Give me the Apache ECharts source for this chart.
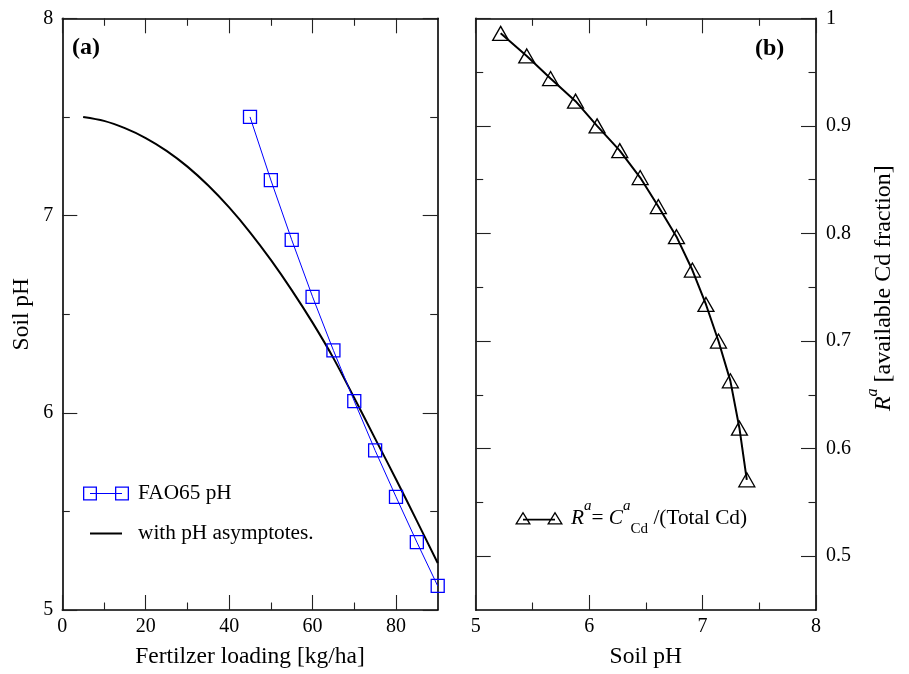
<!DOCTYPE html>
<html><head><meta charset="utf-8">
<script src="https://cdn.jsdelivr.net/npm/echarts@6/dist/echarts.min.js"></script>
<style>html,body{margin:0;padding:0;background:#fff}#c{width:909px;height:674px}</style>
</head><body><div id="c"></div>
<script>
// ---------- Panel (a) data ----------
const fertX = [45, 50, 55, 60, 65, 70, 75, 80, 85, 90];
const faoPH = [7.50, 7.18, 6.877, 6.588, 6.316, 6.059, 5.809, 5.574, 5.344, 5.122];
const asymX = [5, 10, 15, 20, 25, 30, 35, 40, 45, 50, 55, 60, 65, 70, 75, 80, 85, 90];
const asymPH = [7.50, 7.48, 7.443, 7.393, 7.328, 7.248, 7.152, 7.041, 6.915, 6.775, 6.622, 6.457, 6.277, 6.075, 5.869, 5.663, 5.452, 5.238];
// ---------- Panel (b) data ----------
const soilPH = [5.22, 5.45, 5.66, 5.88, 6.07, 6.27, 6.45, 6.61, 6.77, 6.91, 7.03, 7.14, 7.245, 7.325, 7.39];
const availR = [0.986, 0.965, 0.944, 0.923, 0.900, 0.877, 0.852, 0.825, 0.797, 0.766, 0.734, 0.700, 0.663, 0.619, 0.571];
// ---------- Ticks ----------
const xTicksA = [0, 20, 40, 60, 80];
const xMinorA = [10, 30, 50, 70];
const yTicksA = [5, 6, 7, 8];
const yMinorA = [5.5, 6.5, 7.5];
const xTicksB = [5, 6, 7, 8];
const xMinorB = [5.5, 6.5, 7.5];
const yTicksB = [0.5, 0.6, 0.7, 0.8, 0.9, 1];
const yMinorB = [0.55, 0.65, 0.75, 0.85, 0.95];

const FONT = '"Liberation Serif", "Times New Roman", serif';
const MAJ = 15, MIN = 7.5;

function ax(grid, pos, range, ticks, len, line, extra) {
  return Object.assign({
    type: 'value', gridIndex: grid, position: pos, min: range[0], max: range[1],
    axisLine: { show: line, onZero: false, lineStyle: { color: '#000', width: 1.6 } },
    axisTick: { show: true, inside: true, length: len, customValues: ticks, lineStyle: { color: '#222', width: 1.1 } },
    axisLabel: { show: false },
    splitLine: { show: false }, minorTick: { show: false }, minorSplitLine: { show: false }
  }, extra || {});
}
function lab(ticks, margin) {
  return { show: true, customValues: ticks, margin: margin, fontFamily: FONT, fontSize: 20, color: '#000', showMinLabel: true, showMaxLabel: true };
}
const nameStyle = { fontFamily: FONT, fontSize: 23.5, color: '#000' };

const xr = { A: [0, 90], B: [5, 8] };
const yr = { A: [5, 8], B: [0.45, 1] };

const xAxes = [
  ax(0, 'bottom', xr.A, xTicksA, MAJ, true, { axisLabel: lab(xTicksA, 7), name: 'Fertilzer loading [kg/ha]', nameLocation: 'middle', nameGap: 35, nameTextStyle: nameStyle }),
  ax(0, 'bottom', xr.A, xMinorA, MIN, false),
  ax(0, 'top', xr.A, xTicksA, MAJ, true),
  ax(0, 'top', xr.A, xMinorA, MIN, false),
  ax(1, 'bottom', xr.B, xTicksB, MAJ, true, { axisLabel: lab(xTicksB, 7), name: 'Soil pH', nameLocation: 'middle', nameGap: 35, nameTextStyle: nameStyle }),
  ax(1, 'bottom', xr.B, xMinorB, MIN, false),
  ax(1, 'top', xr.B, xTicksB, MAJ, true),
  ax(1, 'top', xr.B, xMinorB, MIN, false)
];
const yAxes = [
  ax(0, 'left', yr.A, yTicksA, MAJ, true, { axisLabel: lab(yTicksA, 9), name: 'Soil pH', nameLocation: 'middle', nameGap: 28.5, nameTextStyle: nameStyle }),
  ax(0, 'left', yr.A, yMinorA, MIN, false),
  ax(0, 'right', yr.A, yTicksA, MAJ, true),
  ax(0, 'right', yr.A, yMinorA, MIN, false),
  ax(1, 'right', yr.B, yTicksB, MAJ, true, {
    axisLabel: lab(yTicksB, 10),
    name: '{i|R}{sup|a}{n| [available Cd fraction]}', nameLocation: 'middle', nameGap: 48.5,
    nameTextStyle: { fontFamily: FONT, fontSize: 24, color: '#000', padding: [0, 0, 0, 52], rich: {
      i: { fontFamily: FONT, fontSize: 24, fontStyle: 'italic', color: '#000', lineHeight: 38 },
      n: { fontFamily: FONT, fontSize: 24, color: '#000', lineHeight: 38 },
      sup: { fontFamily: FONT, fontSize: 16, fontStyle: 'italic', color: '#000', lineHeight: 16, verticalAlign: 'top' }
    } }
  }),
  ax(1, 'right', yr.B, yMinorB, MIN, false),
  ax(1, 'left', yr.B, yTicksB, MAJ, true),
  ax(1, 'left', yr.B, yMinorB, MIN, false)
];

const sqIcon = 'path://M0,0H14V14H0Z M1.3,1.3V12.7H12.7V1.3Z M32,0H46V14H32Z M33.3,1.3V12.7H44.7V1.3Z M7,6.4H39V7.6H7Z';
const lineIcon = 'path://M0,0L0.01,0L0,0.01Z M46,14L45.99,14L46,13.99Z M7,6.1H39V7.9H7Z';
const triIcon = 'path://M8,0L16,13L0,13Z M8,2.48L2.33,11.7L13.67,11.7Z M40,0L48,13L32,13Z M40,2.48L34.33,11.7L45.67,11.7Z M8,7.3H40V8.9H8Z';

const LF = 21.3;
const legText = { fontFamily: FONT, fontSize: LF, color: '#000', padding: [0, 0, 0, 4] };
const richLeg = {
  n: { fontFamily: FONT, fontSize: LF, color: '#000', lineHeight: 38 },
  i: { fontFamily: FONT, fontSize: LF, fontStyle: 'italic', color: '#000', lineHeight: 38 },
  sup: { fontFamily: FONT, fontSize: 15, fontStyle: 'italic', color: '#000', lineHeight: 15, verticalAlign: 'top' },
  sub: { fontFamily: FONT, fontSize: 15, color: '#000', lineHeight: 21, verticalAlign: 'bottom' }
};

const option = {
  animation: false,
  backgroundColor: '#fff',
  grid: [
    { left: 62.3, right: 471.3, top: 18.3, bottom: 60.7 },
    { left: 475.7, right: 93, top: 18.3, bottom: 60.7 }
  ],
  title: [
    { text: '(a)', left: 72, top: 36, padding: 0, textStyle: { fontFamily: FONT, fontSize: 24, fontWeight: 'bold', color: '#000' } },
    { text: '(b)', left: 755, top: 37, padding: 0, textStyle: { fontFamily: FONT, fontSize: 24, fontWeight: 'bold', color: '#000' } }
  ],
  legend: [
    { data: [{ name: 'FAO65 pH', icon: sqIcon, itemStyle: { color: '#0000ff', borderWidth: 0 } }], left: 83, top: 483, padding: 0,
      itemWidth: 46, itemHeight: 14, selectedMode: false, textStyle: legText },
    { data: [{ name: 'with pH asymptotes.', icon: lineIcon, itemStyle: { color: '#000', borderWidth: 0 } }], left: 83, top: 523, padding: 0,
      itemWidth: 46, itemHeight: 14, selectedMode: false, textStyle: legText },
    { data: [{ name: 'Ra', icon: triIcon, itemStyle: { color: '#000', borderWidth: 0 } }], left: 515, top: 499, padding: 0,
      itemWidth: 48, itemHeight: 13, selectedMode: false,
      formatter: function () { return '{i|R}{sup|a}{n|= }{i|C}{sup|a}{sub|Cd}{n| /(Total Cd)}'; },
      textStyle: { fontFamily: FONT, fontSize: LF, color: '#000', padding: [0, 0, 0, 3], rich: richLeg } }
  ],
  xAxis: xAxes,
  yAxis: yAxes,
  series: [
    { name: 'with pH asymptotes.', type: 'line', xAxisIndex: 0, yAxisIndex: 0,
      data: asymX.map((x, i) => [x, asymPH[i]]), symbol: 'none', showSymbol: false, smooth: 0.3,
      lineStyle: { color: '#000', width: 2 }, itemStyle: { color: '#000' }, z: 2 },
    { name: 'FAO65 pH', type: 'line', xAxisIndex: 0, yAxisIndex: 0,
      data: fertX.map((x, i) => [x, faoPH[i]]), symbol: 'rect', symbolSize: 13,
      lineStyle: { color: '#0000ff', width: 1 },
      itemStyle: { color: 'rgba(0,0,0,0)', borderColor: '#0000ff', borderWidth: 1.3 }, z: 3 },
    { name: 'Ra', type: 'line', xAxisIndex: 4, yAxisIndex: 4,
      data: soilPH.map((x, i) => [x, availR[i]]), symbol: 'triangle', symbolSize: [16, 14],
      lineStyle: { color: '#000', width: 2 },
      itemStyle: { color: 'rgba(0,0,0,0)', borderColor: '#000', borderWidth: 1.3 }, z: 3 }
  ]
};
const chart = echarts.init(document.getElementById('c'), null, { renderer: 'canvas' });
chart.setOption(option);
</script>
</body></html>
